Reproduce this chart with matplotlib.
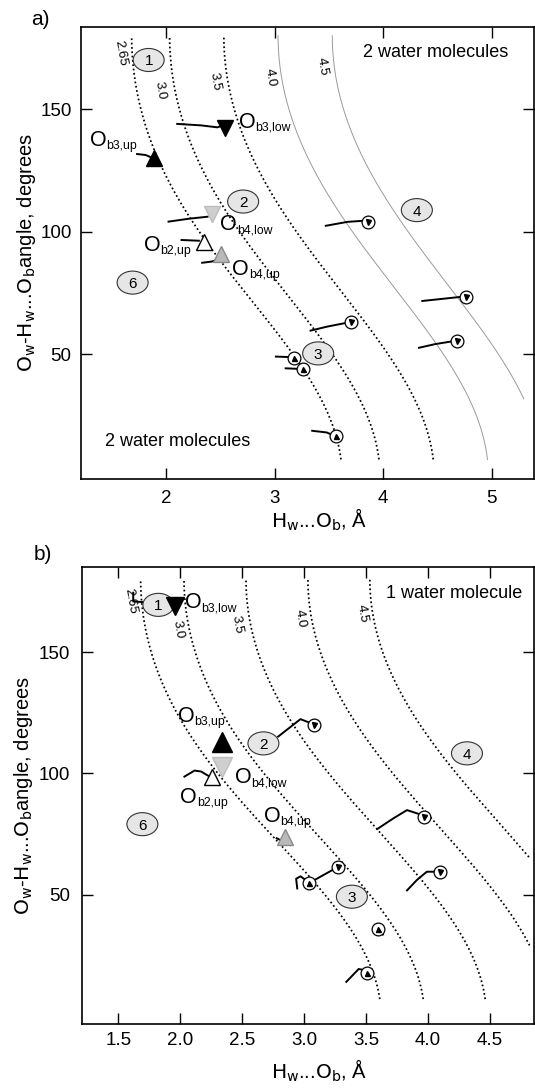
import numpy as np
import matplotlib
matplotlib.use('Agg')
import matplotlib.pyplot as plt
from matplotlib.patches import Ellipse

NARROW = ['Liberation Sans Narrow', 'Liberation Sans', 'DejaVu Sans']
WIDE = ['Liberation Sans', 'DejaVu Sans']
plt.rcParams['font.family'] = NARROW
plt.rcParams['mathtext.fontset'] = 'custom'
plt.rcParams['mathtext.rm'] = 'Liberation Sans Narrow'
plt.rcParams['mathtext.it'] = 'Liberation Sans Narrow:italic'
plt.rcParams['mathtext.bf'] = 'Liberation Sans Narrow:bold'

# iso O...O distance lines (labels of the dotted curves), O-H bond length
oo_dist = [2.65, 3.0, 3.5, 4.0, 4.5]
oo_text = ['2.65', '3.0', '3.5', '4.0', '4.5']
r_oh = 0.97

# ---------------- panel a (2 water molecules) ----------------
a_curve_dmax = 5.3
a_curve_lbl_x = [1.575, 1.945, 2.452, 2.96, 3.438]
a_curve_lbl_y = [172.9, 157.6, 161.3, 163.0, 167.4]

a_sites = ['b3,low', 'b3,up', 'b4,low', 'b2,up', 'b4,up']
a_site_x = [2.545, 1.889, 2.422, 2.349, 2.503]
a_site_y = [142.2, 130.0, 107.1, 95.6, 91.0]
a_site_trk_x = [[2.10, 2.32, 2.47, 2.52], [1.73, 1.81, 1.86], [2.02, 2.21, 2.38],
                [2.14, 2.30], [2.33, 2.42, 2.47]]
a_site_trk_y = [[144.0, 143.4, 142.6, 143.4], [131.7, 131.3, 130.3], [104.1, 105.3, 106.1],
                [96.6, 96.3], [87.3, 87.8, 88.6]]
a_site_lbl_x = [2.745, 1.369, 2.575, 1.87, 2.683]
a_site_lbl_y = [145.6, 138.2, 103.7, 95.3, 85.3]

a_ring_x = [3.859, 4.761, 3.699, 4.684, 3.177, 3.262, 3.561]
a_ring_y = [104.1, 73.4, 63.2, 55.5, 48.5, 43.8, 16.5]
a_ring_dir = ['v', 'v', 'v', 'v', '^', '^', '^']
a_ring_trk_x = [[3.47, 3.67, 3.80], [4.36, 4.53, 4.70], [3.33, 3.48, 3.64],
                [4.33, 4.48, 4.62], [3.01, 3.13], [3.10, 3.21], [3.345, 3.48, 3.53]]
a_ring_trk_y = [[102.4, 104.0, 104.4], [71.7, 72.5, 73.3], [59.6, 61.2, 62.6],
                [52.6, 54.1, 55.1], [49.0, 48.8], [44.2, 44.0], [18.7, 18.0, 17.0]]

a_regions = ['1', '2', '3', '4', '6']
a_region_x = [1.837, 2.708, 3.40, 4.31, 1.689]
a_region_y = [170.1, 112.3, 50.3, 108.8, 79.2]

a_notes = ['2 water molecules', '2 water molecules']
a_note_x = [3.81, 1.437]
a_note_y = [173.1, 14.2]

# ---------------- panel b (1 water molecule) ----------------
b_curve_dmax = 4.82
b_curve_lbl_x = [1.60, 1.985, 2.456, 2.968, 3.466]
b_curve_lbl_y = [170.9, 159.2, 161.3, 164.0, 166.1]

b_sites = ['b3,low', 'b3,up', 'b4,low', 'b2,up', 'b4,up']
b_site_x = [1.958, 2.335, 2.335, 2.258, 2.847]
b_site_y = [169.2, 113.1, 102.6, 98.6, 74.0]
b_site_trk_x = [[1.62, 1.62, 1.95], [], [], [2.033, 2.115, 2.168, 2.24], [2.778, 2.887]]
b_site_trk_y = [[174.5, 170.9, 169.8], [], [], [98.7, 101.2, 100.8, 98.6], [73.3, 70.5]]
b_site_lbl_x = [2.101, 2.047, 2.505, 2.065, 2.739]
b_site_lbl_y = [171.3, 124.4, 99.1, 91.2, 83.2]

b_ring_x = [3.081, 3.964, 4.093, 3.277, 3.035, 3.592, 3.506]
b_ring_y = [120.0, 82.2, 59.3, 61.6, 54.7, 35.9, 17.6]
b_ring_dir = ['v', 'v', 'v', 'v', '^', '^', '^']
b_ring_trk_x = [[2.79, 2.97, 3.05], [3.59, 3.72, 3.83, 3.92], [3.83, 3.91, 3.99, 4.05],
                [3.035, 3.277], [2.944, 2.935, 2.97, 3.0], [3.60, 3.625, 3.635],
                [3.34, 3.44, 3.48]]
b_ring_trk_y = [[115.2, 122.4, 120.8], [77.1, 81.5, 84.9, 83.4], [51.8, 56.1, 59.5, 59.5],
                [54.7, 61.6], [52.6, 56.6, 57.6, 56.5], [35.9, 34.2, 33.6],
                [14.1, 19.4, 19.0]]

b_regions = ['1', '2', '3', '4', '6']
b_region_x = [1.823, 2.671, 3.385, 4.314, 1.694]
b_region_y = [169.5, 112.4, 49.2, 108.3, 79.1]

b_notes = ['1 water molecule']
b_note_x = [3.662]
b_note_y = [174.0]

# marker look for each oxygen site
SITE_STYLE = {
    'b3,low': dict(marker='v', mfc='black', mec='black'),
    'b3,up': dict(marker='^', mfc='black', mec='black'),
    'b4,low': dict(marker='v', mfc='#cfcfcf', mec='#bdbdbd'),
    'b2,up': dict(marker='^', mfc='white', mec='black'),
    'b4,up': dict(marker='^', mfc='#b9b9b9', mec='#8a8a8a'),
}


def iso_line(D, dmax):
    # curve of constant Ow...Ob distance D in (Hw...Ob, angle) space
    th = np.linspace(7, 180, 400)
    t = np.radians(th)
    d = r_oh * np.cos(t) + np.sqrt(D ** 2 - (r_oh * np.sin(t)) ** 2)
    keep = d <= dmax
    return d[keep], th[keep]


def o_label(ax, x, y, sub):
    ax.annotate('O', (x, y), xytext=(0, -5.6), textcoords='offset points',
                fontsize=15.5, ha='center', va='baseline', zorder=6)
    ax.annotate(sub, (x, y), xytext=(6, -7.7), textcoords='offset points',
                fontsize=8.8, family=WIDE, ha='left', va='baseline', zorder=6)


def draw_panel(ax, xlim, ylim, dmax, gray_from, cl_x, cl_y,
               sites, s_x, s_y, s_tx, s_ty, s_lx, s_ly, s_ms,
               r_x, r_y, r_dir, r_tx, r_ty, reg, reg_x, reg_y, ell_w, ell_h,
               notes, n_x, n_y):
    for i, D in enumerate(oo_dist):
        d, th = iso_line(D, dmax)
        if i >= gray_from:
            ax.plot(d, th, color='#9a9a9a', lw=0.7, zorder=1)
        else:
            ax.plot(d, th, color='black', lw=1.25, ls=(0, (1, 1.5)), zorder=1)
        ax.text(cl_x[i], cl_y[i], oo_text[i], rotation=-80, fontsize=9.5,
                family=WIDE, ha='center', va='center', zorder=2)

    # trajectories
    for tx, ty in zip(s_tx + r_tx, s_ty + r_ty):
        if tx:
            ax.plot(tx, ty, color='black', lw=1.4, zorder=2)

    # region ellipses
    for k, x, y in zip(reg, reg_x, reg_y):
        ax.add_patch(Ellipse((x, y), ell_w, ell_h, fc='#e6e6e6', ec='#333333',
                             lw=0.8, zorder=3))
        ax.text(x, y, k, fontsize=11, family=WIDE, ha='center',
                va='center_baseline', zorder=3.5)

    # oxygen site markers
    for name, x, y, ms in zip(sites, s_x, s_y, s_ms):
        st = SITE_STYLE[name]
        ax.plot([x], [y], ls='none', marker=st['marker'], ms=ms, mfc=st['mfc'],
                mec=st['mec'], mew=1.0, zorder=4)
    for name, x, y in zip(sites, s_lx, s_ly):
        o_label(ax, x, y, name)

    # ring markers
    for x, y, m in zip(r_x, r_y, r_dir):
        ax.plot([x], [y], 'o', ms=9.2, mfc='white', mec='black', mew=0.9, zorder=4)
        ax.plot([x], [y], ls='none', marker=m, ms=3.6, color='black', zorder=5)

    for t, x, y in zip(notes, n_x, n_y):
        ax.text(x, y, t, fontsize=13, family=WIDE, ha='left', va='center', zorder=6)

    ax.set_xlim(*xlim)
    ax.set_ylim(*ylim)
    ax.set_yticks([50, 100, 150])
    for s in ax.spines.values():
        s.set_linewidth(1.2)
    ax.tick_params(direction='in', length=8, width=1.0, top=True, right=True,
                   labelsize=13.5)
    ax.set_ylabel(r'$\mathrm{O_w}$-$\mathrm{H_w}$...$\mathrm{O_b}$angle, degrees',
                  fontsize=14.5)
    ax.set_xlabel(r'$\mathrm{H_w}$...$\mathrm{O_b}$, Å', fontsize=14.5, va='baseline')


fig = plt.figure(figsize=(5.35, 10.89), dpi=100)
ax_a = fig.add_axes([0.1508, 0.5599, 0.8473, 0.4156])
ax_b = fig.add_axes([0.1527, 0.0594, 0.8454, 0.4197])

draw_panel(ax_a, (1.21, 5.39), (-1.1, 183.7), a_curve_dmax, 3, a_curve_lbl_x, a_curve_lbl_y,
           a_sites, a_site_x, a_site_y, a_site_trk_x, a_site_trk_y, a_site_lbl_x, a_site_lbl_y,
           [11, 11, 11, 11, 11],
           a_ring_x, a_ring_y, a_ring_dir, a_ring_trk_x, a_ring_trk_y,
           a_regions, a_region_x, a_region_y, 0.286, 9.4,
           a_notes, a_note_x, a_note_y)
ax_a.set_xticks([2, 3, 4, 5])
ax_a.tick_params(axis='x', pad=7.5)
ax_a.tick_params(axis='y', pad=6.5)
ax_a.yaxis.set_label_coords(-0.094, 0.5)
ax_a.xaxis.set_label_coords(0.526, -0.108)

draw_panel(ax_b, (1.204, 4.855), (-3.4, 185.0), b_curve_dmax, 5, b_curve_lbl_x, b_curve_lbl_y,
           b_sites, b_site_x, b_site_y, b_site_trk_x, b_site_trk_y, b_site_lbl_x, b_site_lbl_y,
           [12.5, 14, 14, 12, 12],
           b_ring_x, b_ring_y, b_ring_dir, b_ring_trk_x, b_ring_trk_y,
           b_regions, b_region_x, b_region_y, 0.25, 9.5,
           b_notes, b_note_x, b_note_y)
ax_b.set_xticks([1.5, 2.0, 2.5, 3.0, 3.5, 4.0, 4.5])
ax_b.set_xticklabels(['1.5', '2.0', '2.5', '3.0', '3.5', '4.0', '4.5'])
ax_b.tick_params(axis='x', pad=5.5)
ax_b.tick_params(axis='y', pad=8.4)
ax_b.yaxis.set_label_coords(-0.103, 0.5)
ax_b.xaxis.set_label_coords(0.525, -0.118)

fig.text(30.7 / 535, 1 - 25 / 1089, 'a)', fontsize=15, family=WIDE, va='baseline')
fig.text(34 / 535, 1 - 560 / 1089, 'b)', fontsize=15, family=WIDE, va='baseline')

fig.savefig('out.png', dpi=100)
